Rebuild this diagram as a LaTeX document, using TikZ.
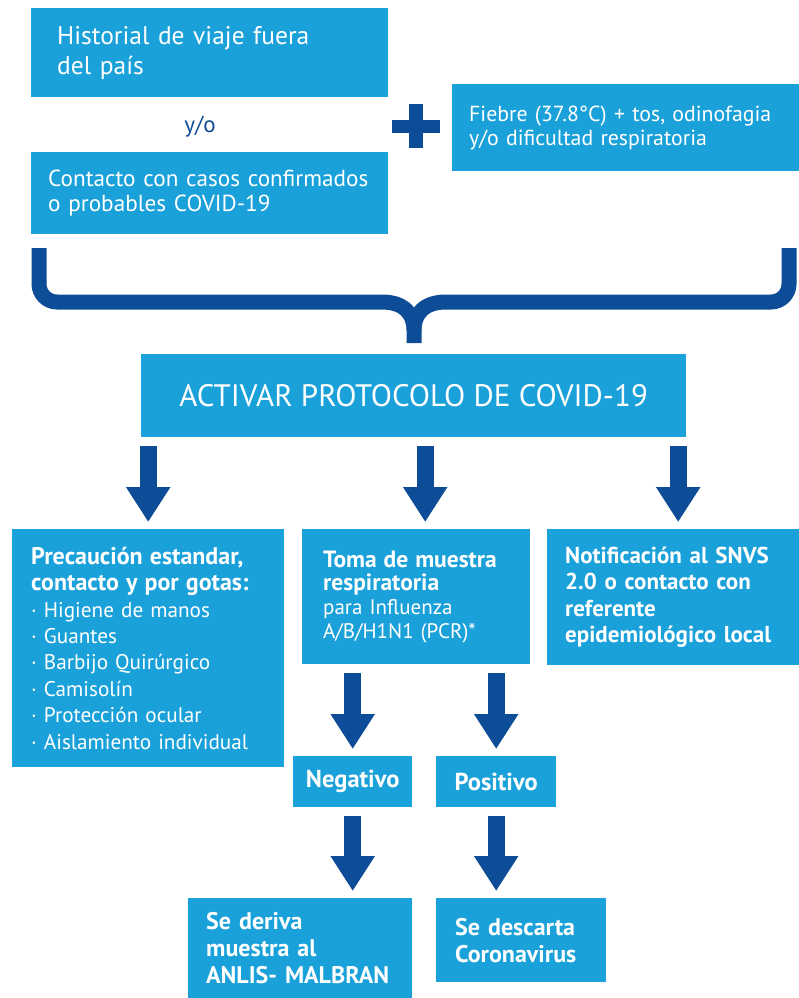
\documentclass[tikz,border=0pt]{standalone}
\usepackage{fontspec}
\setmainfont{PT Sans}
\usetikzlibrary{arrows.meta}
\definecolor{boxblue}{RGB}{27,161,218}
\definecolor{arrowblue}{RGB}{13,76,150}

\begin{document}
\begin{tikzpicture}[x=1pt, y=-1pt,
		box/.style={fill=boxblue, text=white, anchor=north west, align=left, inner ysep=0pt},
		fat/.style={arrowblue, line width=17pt, -{Triangle[width=42pt,length=35pt]}, shorten <=9pt, shorten >=7pt}]
			%%%%% START %%%%%
			\useasboundingbox (0,0) rectangle (799,998);
			
			\node[box, inner xsep=26pt, text width=305pt, minimum height=89pt, font=\fontsize{25.5}{30}\selectfont] (hist) at (31,8) {Historial de viaje fuera\\del país};
			\node[text=arrowblue, font=\fontsize{23}{26}\selectfont] (yo) at (200,127) {y/o};
			\node[box, inner xsep=17pt, text width=323pt, minimum height=82pt, font=\fontsize{23.2}{25}\selectfont] (cont) at (31,152) {Contacto con casos confirmados\\o probables COVID-19};
			
			\fill[arrowblue] (409,104) rectangle (423,148);
			\fill[arrowblue] (392,120) rectangle (440,133);
			
			\node[box, inner xsep=17pt, text width=313pt, minimum height=87pt, font=\fontsize{21.8}{24}\selectfont] (fieb) at (452,84) {Fiebre (37.8°C) + tos, odinofagia\\y/o dificultad respiratoria};
			
			\draw[arrowblue, line width=15pt] (39,248) -- (39,284) arc[start angle=180, end angle=270, radius=18pt] -- (382,302) .. controls (404,302) and (414,314) .. (414,330) -- (414,343);
			\draw[arrowblue, line width=15pt] (789,248) -- (789,284) arc[start angle=0, end angle=-90, radius=18pt] -- (446,302) .. controls (424,302) and (414,314) .. (414,330);
			
			\node[box, inner xsep=0pt, minimum width=545pt, minimum height=83pt, align=center, font=\fontsize{31}{36}\selectfont] (act) at (141,354) {ACTIVAR PROTOCOLO DE COVID-19};
			
			\node[box, inner xsep=19pt, text width=234pt, minimum height=238pt, font=\fontsize{21.2}{26.4}\selectfont] (prec) at (12,529) {{\fontsize{24}{26.4}\selectfont\bfseries Precaución estandar,\\contacto y por gotas:}\\· Higiene de manos\\· Guantes\\· Barbijo Quirúrgico\\· Camisolín\\· Protección ocular\\· Aislamiento individual};
			\node[box, inner xsep=21pt, text width=186pt, minimum height=135pt, font=\fontsize{21}{23.7}\selectfont] (toma) at (302,529) {{\fontsize{23.5}{23.7}\selectfont\bfseries Toma de muestra\\respiratoria}\\para Influenza\\A/B/H1N1 (PCR)*};
			\node[box, inner xsep=18pt, text width=216pt, minimum height=136pt, font=\fontsize{23}{26.5}\selectfont\bfseries] (notif) at (547,529) {Notificación al SNVS\\2.0 o contacto con\\referente\\epidemiológico local};
			
			\draw[fat] (act.south -| prec.north) -- (prec.north);
			\draw[fat] ([xshift=9pt]act.south -| toma.north) -- ([xshift=9pt]toma.north);
			\draw[fat] ([xshift=5pt]act.south -| notif.north) -- ([xshift=5pt]notif.north);
			
			\node[box, inner xsep=0pt, minimum width=119pt, minimum height=51pt, align=center, font=\fontsize{24.5}{26}\selectfont\bfseries] (neg) at (293,756) {Negativo};
			\node[box, inner xsep=0pt, minimum width=120pt, minimum height=51pt, align=center, font=\fontsize{24.5}{26}\selectfont\bfseries] (pos) at (436,756) {Positivo};
			
			\draw[fat] (toma.south -| neg.north) -- (neg.north);
			\draw[fat] (toma.south -| pos.north) -- (pos.north);
			
			\node[box, inner xsep=18pt, text width=188pt, minimum height=100pt, font=\fontsize{24}{27}\selectfont\bfseries] (der) at (188,898) {Se deriva\\muestra al\\ANLIS- MALBRAN};
			\node[box, inner xsep=19pt, text width=132pt, minimum height=84pt, font=\fontsize{24}{27}\selectfont\bfseries] (desc) at (436,898) {Se descarta\\Coronavirus};
			
			\draw[fat] (neg.south) -- (neg.south |- der.north);
			\draw[fat] (pos.south) -- (pos.south |- desc.north);
			%%%%% END %%%%%
\end{tikzpicture}
\end{document}
